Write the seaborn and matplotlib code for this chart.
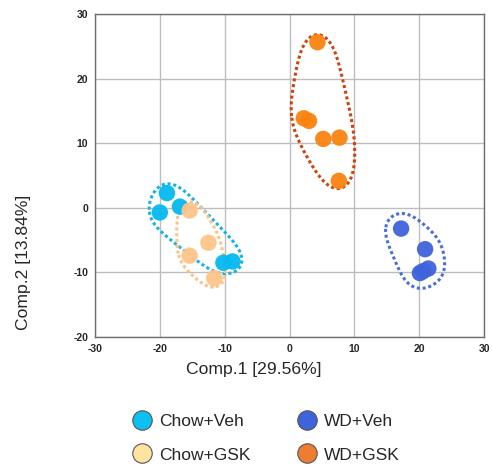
import numpy as np
import pandas as pd
import matplotlib
matplotlib.use('Agg')
import matplotlib.pyplot as plt
from matplotlib.lines import Line2D
import seaborn as sns

# PCA scores
groups = ['Chow+Veh', 'Chow+GSK', 'WD+Veh', 'WD+GSK']
chow_veh_x = [-18.9, -20.0, -16.9, -10.2, -8.8]
chow_veh_y = [2.3, -0.7, 0.2, -8.5, -8.3]
chow_gsk_x = [-15.4, -12.5, -15.4, -11.6]
chow_gsk_y = [-0.4, -5.4, -7.4, -10.9]
wd_veh_x = [17.2, 20.9, 21.4, 20.6, 20.1]
wd_veh_y = [-3.2, -6.4, -9.4, -9.8, -10.1]
wd_gsk_x = [4.3, 2.2, 3.0, 5.2, 7.7, 7.6]
wd_gsk_y = [25.7, 13.9, 13.5, 10.7, 10.9, 4.2]

point_colors = {'Chow+Veh': '#06B9F0', 'Chow+GSK': '#FDC48A',
                'WD+Veh': '#3F63DB', 'WD+GSK': '#F9830F'}
hull_colors = {'Chow+Veh': '#14B2EA', 'Chow+GSK': '#FFC285',
               'WD+Veh': '#4A6EDF', 'WD+GSK': '#D2420F'}
legend_colors = {'Chow+Veh': '#0CC0F2', 'Chow+GSK': '#FFE39E',
                 'WD+Veh': '#3F63DB', 'WD+GSK': '#EE7D34'}
hull_pad = {'Chow+Veh': 2.3, 'Chow+GSK': 2.0, 'WD+Veh': 2.8, 'WD+GSK': 2.5}

df = pd.concat([
    pd.DataFrame({'x': chow_veh_x, 'y': chow_veh_y, 'group': 'Chow+Veh'}),
    pd.DataFrame({'x': chow_gsk_x, 'y': chow_gsk_y, 'group': 'Chow+GSK'}),
    pd.DataFrame({'x': wd_veh_x, 'y': wd_veh_y, 'group': 'WD+Veh'}),
    pd.DataFrame({'x': wd_gsk_x, 'y': wd_gsk_y, 'group': 'WD+GSK'}),
], ignore_index=True)


def padded_hull(xs, ys, r):
    # convex hull of circles around every point (monotone chain), then smoothed
    t = np.linspace(0, 2 * np.pi, 60, endpoint=False)
    pts = []
    for x, y in zip(xs, ys):
        pts += list(zip(x + r * np.cos(t), y + r * np.sin(t)))
    pts = sorted(set(pts))

    def cross(o, a, b):
        return (a[0] - o[0]) * (b[1] - o[1]) - (a[1] - o[1]) * (b[0] - o[0])

    lower, upper = [], []
    for p in pts:
        while len(lower) >= 2 and cross(lower[-2], lower[-1], p) <= 0:
            lower.pop()
        lower.append(p)
    for p in reversed(pts):
        while len(upper) >= 2 and cross(upper[-2], upper[-1], p) <= 0:
            upper.pop()
        upper.append(p)
    hull = np.array(lower[:-1] + upper[:-1] + [lower[0]])

    # resample by arc length and smooth with a circular gaussian
    seg = np.hypot(*np.diff(hull, axis=0).T)
    s = np.concatenate([[0], np.cumsum(seg)])
    n = 400
    u = np.linspace(0, s[-1], n, endpoint=False)
    hx = np.interp(u, s, hull[:, 0])
    hy = np.interp(u, s, hull[:, 1])
    k = np.arange(-60, 61)
    w = np.exp(-0.5 * (k / 20.0) ** 2)
    w /= w.sum()
    sx = sum(wi * np.roll(hx, ki) for ki, wi in zip(k, w))
    sy = sum(wi * np.roll(hy, ki) for ki, wi in zip(k, w))
    return np.append(sx, sx[0]), np.append(sy, sy[0])


sns.set_style('white')
plt.rcParams['font.family'] = ['Liberation Sans', 'DejaVu Sans']
plt.rcParams['axes.unicode_minus'] = False

fig = plt.figure(figsize=(4.92, 4.66), dpi=100)
ax = fig.add_axes([0.193, 0.277, 0.791, 0.692])

for g in groups:
    sub = df[df['group'] == g]
    hx, hy = padded_hull(sub['x'].values, sub['y'].values, hull_pad[g])
    ax.plot(hx, hy, color=hull_colors[g], lw=2.2,
            linestyle=(0, (1, 0.9)), zorder=2)

sns.scatterplot(data=df, x='x', y='y', hue='group', palette=point_colors,
                s=140, edgecolor='none', alpha=0.95, legend=False, ax=ax,
                zorder=3)

ax.set_xlim(-30, 30)
ax.set_ylim(-20, 30)
ax.set_xticks(range(-30, 31, 10))
ax.set_yticks(range(-20, 31, 10))
ax.grid(True, color='#bdbdbd', lw=1)
ax.set_axisbelow(True)
for s in ax.spines.values():
    s.set_color('#6e6e6e')
    s.set_linewidth(1)
ax.tick_params(axis='both', direction='out', length=3, width=0.8,
               color='#555555', labelsize=7.5, pad=2)
for lab in ax.get_xticklabels() + ax.get_yticklabels():
    lab.set_fontweight('bold')
    lab.set_family(['Liberation Sans Narrow', 'Liberation Sans'])

ax.set_xlabel('Comp.1 [29.56%]', fontsize=12.6)
ax.set_ylabel('Comp.2 [13.84%]', fontsize=12.6)
ax.xaxis.set_label_coords(0.409, -0.078)
ax.yaxis.set_label_coords(-0.165, 0.23)

handles = [Line2D([], [], marker='o', linestyle='none', markersize=14,
                  markerfacecolor=legend_colors[g], markeredgecolor='#555555',
                  markeredgewidth=0.8, label=g)
           for g in ['Chow+Veh', 'Chow+GSK', 'WD+Veh', 'WD+GSK']]
fig.legend(handles=handles, ncol=2, loc='center', bbox_to_anchor=(0.54, 0.060),
           frameon=False, fontsize=12.5, columnspacing=2.64, handlelength=1.2,
           handletextpad=0.4, labelspacing=1.08)

fig.savefig('out.png', dpi=100)
